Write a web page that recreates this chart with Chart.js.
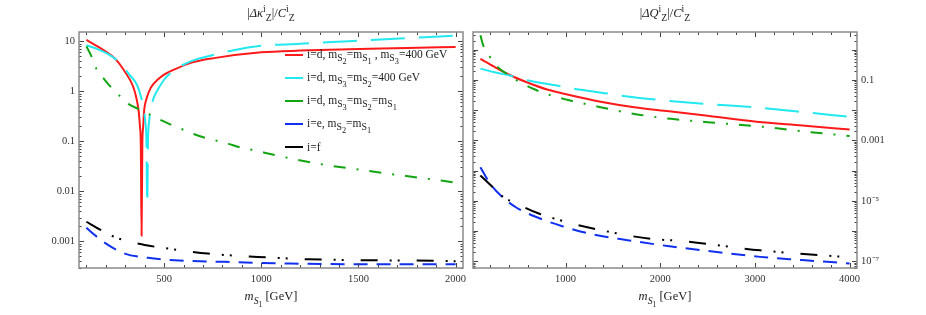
<!DOCTYPE html>
<html lang="en">
<head>
  <meta charset="UTF-8">
  <title>Delta kappa and Delta Q</title>
  <script src="https://cdn.jsdelivr.net/npm/chart.js"></script>
  <style>
    body { margin: 0; background: #fff; }
    #wrap { position: relative; width: 926px; height: 315px; font-family: 'Liberation Serif', serif; color: #222; }
    canvas { position: absolute; top: 0; }
    .lbl { position: absolute; transform: translateX(-50%); white-space: nowrap; font-size: 12.5px; }
    .lbl i { font-style: italic; }
    sub, sup { font-size: 78%; line-height: 0; }
    .legend { position: absolute; left: 285px; font-size: 11.5px; }
    .legend sub { font-size: 85%; }
    .row { position: absolute; left: 0; height: 16px; display: flex; align-items: center; white-space: nowrap; }
    .row span.ln { display: inline-block; width: 18px; height: 2px; margin-right: 4px; }
  </style>
</head>
<body>
  <div id="wrap">
    <canvas id="kappaChart" width="470" height="315" style="left:0"></canvas>
    <canvas id="qChart" width="460" height="315" style="left:466px"></canvas>

    <div class="lbl" style="left:271px; top:6px">|<i>Δκ</i><sup>i</sup><sub>Z</sub>|/<i>C</i><sup>i</sup><sub>Z</sub></div>
    <div class="lbl" style="left:665px; top:6px">|<i>ΔQ</i><sup>i</sup><sub>Z</sub>|/<i>C</i><sup>i</sup><sub>Z</sub></div>
    <div class="lbl" style="left:271px; top:289px"><i>m</i><sub><i>S</i><sub>1</sub></sub> [GeV]</div>
    <div class="lbl" style="left:665px; top:289px"><i>m</i><sub><i>S</i><sub>1</sub></sub> [GeV]</div>

    <!-- legend sits inside the left panel -->
    <div class="legend">
      <div class="row" style="top:47px"><span class="ln" style="background:#ff1a1a"></span><span>i=d, m<sub>S<sub>2</sub></sub>=m<sub>S<sub>1</sub></sub> , m<sub>S<sub>3</sub></sub>=400 GeV</span></div>
      <div class="row" style="top:70px"><span class="ln" style="background:#22e8f0"></span><span>i=d, m<sub>S<sub>3</sub></sub>=m<sub>S<sub>2</sub></sub>=400 GeV</span></div>
      <div class="row" style="top:93px"><span class="ln" style="background:#12a512"></span><span>i=d, m<sub>S<sub>3</sub></sub>=m<sub>S<sub>2</sub></sub>=m<sub>S<sub>1</sub></sub></span></div>
      <div class="row" style="top:116px"><span class="ln" style="background:#1030f0"></span><span>i=e, m<sub>S<sub>2</sub></sub>=m<sub>S<sub>1</sub></sub></span></div>
      <div class="row" style="top:139px"><span class="ln" style="background:#000"></span><span>i=f</span></div>
    </div>
  </div>

  <script>
    // ---- left panel: |Delta kappa| / C ----
    const kappaRedMass = [100, 150, 200, 250, 300, 340, 357, 369, 376, 380, 384, 388, 392, 397, 411, 431, 466, 500, 551, 637, 757, 1000, 1200, 1450, 1750, 2000];
    const kappaRed = [10.6, 8.2, 6.2, 4.4, 2.4, 1.26, 0.74, 0.40, 0.19, 0.09, 0.0013, 0.09, 0.19, 0.40, 0.74, 1.17, 1.7, 2.15, 2.7, 3.7, 4.6, 6.0, 6.5, 6.9, 7.3, 7.7];

    const kappaCyanMass = [100, 160, 210, 263, 321, 360, 385, 395, 403, 409, 413, 417, 423, 437, 450, 467, 500, 550, 640, 760, 960, 1200, 1450, 1750, 2000];
    const kappaCyan = [8.3, 6.9, 5.6, 4.0, 2.15, 1.35, 0.68, 0.45, 0.25, 0.1, 0.0057, 0.1, 0.25, 0.55, 0.8, 1.07, 1.7, 2.6, 4.0, 5.4, 7.8, 8.9, 10.0, 11.5, 13];

    const kappaGreenMass = [100, 126, 151, 189, 230, 273, 316, 371, 434, 480, 540, 600, 652, 712, 771, 831, 891, 950, 1100, 1307, 1581, 1800, 2000];
    const kappaGreen = [7.9, 5.0, 2.84, 1.8, 1.17, 0.8, 0.56, 0.44, 0.33, 0.27, 0.21, 0.17, 0.14, 0.117, 0.103, 0.089, 0.076, 0.068, 0.05, 0.035, 0.0247, 0.019, 0.015];

    const kappaBlueMass = [100, 143, 211, 297, 417, 554, 811, 1153, 1581, 2000];
    const kappaBlue = [0.00188, 0.00134, 0.00085, 0.00057, 0.00047, 0.00042, 0.00039, 0.00036, 0.00035, 0.00035];

    const kappaBlackMass = [100, 168, 263, 400, 554, 725, 982, 1239, 1565, 1890, 2000];
    const kappaBlack = [0.00247, 0.00174, 0.00115, 0.00085, 0.00069, 0.00057, 0.00049, 0.00044, 0.00042, 0.00041, 0.0004];

    const kappaXTicks = [500, 1000, 1500, 2000];
    const kappaYTicks = [0.001, 0.01, 0.1, 1, 10];
    const kappaYLabels = ['0.001', '0.01', '0.1', '1', '10'];

    // ---- right panel: |Delta Q| / C ----
    const qRedMass = [100, 240, 416, 611, 805, 1017, 1370, 1725, 2093, 2500, 3018, 3500, 4000];
    const qRed = [0.5, 0.28, 0.143, 0.079, 0.048, 0.033, 0.019, 0.0125, 0.0092, 0.0065, 0.0041, 0.0031, 0.0023];

    const qCyanMass = [100, 250, 452, 611, 982, 1141, 1512, 1630, 2043, 2500, 3054, 3500, 4000];
    const qCyan = [0.236, 0.18, 0.13, 0.095, 0.059, 0.048, 0.033, 0.029, 0.021, 0.016, 0.012, 0.0087, 0.006];

    const qGreenMass = [100, 134, 204, 293, 381, 487, 664, 841, 1017, 1370, 1725, 2078, 2500, 3088, 3500, 4000];
    const qGreen = [3.0, 1.29, 0.56, 0.25, 0.158, 0.095, 0.05, 0.031, 0.022, 0.0125, 0.0075, 0.0053, 0.004, 0.0028, 0.002, 0.0014];

    const qBlueMass = [100, 187, 310, 487, 717, 964, 1300, 1654, 2078, 2500, 3054, 3500, 4000];
    const qBlue = [1.3e-4, 4.4e-5, 1.55e-5, 5.8e-6, 2.7e-6, 1.45e-6, 7.6e-7, 5e-7, 3.2e-7, 2.2e-7, 1.4e-7, 1.1e-7, 8.5e-8];

    const qBlackMass = [100, 204, 328, 505, 717, 982, 1300, 1901, 2199, 3054, 4000];
    const qBlack = [6.9e-5, 3.4e-5, 1.45e-5, 7.5e-6, 3.8e-6, 2.1e-6, 1.2e-6, 5.5e-7, 4.8e-7, 2.3e-7, 1.35e-7];

    const qXTicks = [1000, 2000, 3000, 4000];
    const qYTicks = [1e-7, 1e-5, 0.001, 0.1];
    const qYLabels = ['10⁻⁷', '10⁻⁵', '0.001', '0.1'];

    const pts = (xs, ys) => xs.map((x, i) => ({ x: x, y: ys[i] }));

    function series(xs, ys, color, dash) {
      return {
        data: pts(xs, ys),
        borderColor: color,
        borderWidth: 2,
        borderDash: dash,
        pointRadius: 0,
        fill: false,
        cubicInterpolationMode: 'monotone'
      };
    }

    // frame plus Mathematica-style inward ticks on all four sides
    const frameTicks = {
      id: 'frameTicks',
      afterDraw(chart, args, opts) {
        const { ctx, chartArea: a, scales: { x, y } } = chart;
        const seg = (x1, y1, x2, y2) => { ctx.beginPath(); ctx.moveTo(x1, y1); ctx.lineTo(x2, y2); ctx.stroke(); };
        ctx.save();
        ctx.strokeStyle = '#444';
        ctx.lineWidth = 1;
        for (let v = opts.xStep; v <= x.max; v += opts.xStep) {
          if (v < x.min) continue;
          const px = Math.round(x.getPixelForValue(v)) + 0.5;
          const len = v % opts.xMajor === 0 ? 5 : 3;
          seg(px, a.bottom, px, a.bottom - len);
          seg(px, a.top, px, a.top + len);
        }
        for (let e = opts.yFrom; e <= opts.yTo; e++) {
          for (let k = 1; k <= 9; k++) {
            const v = k * Math.pow(10, e);
            if (v < y.min || v > y.max) continue;
            const py = Math.round(y.getPixelForValue(v)) + 0.5;
            const len = k === 1 ? 5 : 2.5;
            seg(a.left, py, a.left + len, py);
            seg(a.right, py, a.right - len, py);
          }
        }
        ctx.strokeStyle = '#8a8a8a';
        ctx.lineWidth = 1.5;
        ctx.strokeRect(a.left, a.top, a.right - a.left, a.bottom - a.top);
        ctx.restore();
      }
    };

    Chart.defaults.font.family = "'Liberation Serif', serif";
    Chart.defaults.font.size = 10.5;
    Chart.defaults.color = '#333';

    function panel(id, cfg) {
      return new Chart(document.getElementById(id), {
        type: 'line',
        data: { datasets: cfg.datasets },
        options: {
          responsive: false,
          animation: false,
          devicePixelRatio: 1,
          layout: { padding: cfg.padding },
          plugins: { legend: { display: false }, tooltip: { enabled: false }, frameTicks: cfg.frame },
          scales: {
            x: {
              type: 'linear', min: cfg.xMin, max: cfg.xMax,
              grid: { display: false, drawTicks: false }, border: { display: false },
              afterBuildTicks: s => { s.ticks = cfg.xTicks.map(v => ({ value: v })); },
              afterFit: s => { s.height = 47; s.paddingLeft = 0; s.paddingRight = 0; },
              ticks: { autoSkip: false, maxRotation: 0, padding: 5, callback: v => String(v) }
            },
            y: {
              type: 'logarithmic', position: cfg.yPos, min: cfg.yMin, max: cfg.yMax,
              grid: { display: false, drawTicks: false }, border: { display: false },
              afterBuildTicks: s => { s.ticks = cfg.yTicks.map(v => ({ value: v })); },
              afterFit: s => { s.width = cfg.yWidth; s.paddingTop = 0; s.paddingBottom = 0; },
              ticks: { autoSkip: false, padding: 4, callback: (v, i) => cfg.yLabels[i] }
            }
          }
        },
        plugins: [frameTicks]
      });
    }

    panel('kappaChart', {
      datasets: [
        series(kappaBlackMass, kappaBlack, '#000000', [17, 12, 2, 6, 2, 17]),
        series(kappaBlueMass, kappaBlue, '#1030f0', [14, 9]),
        series(kappaGreenMass, kappaGreen, '#12a512', [12, 11, 2, 11]),
        series(kappaCyanMass, kappaCyan, '#22e8f0', [34, 14]),
        series(kappaRedMass, kappaRed, '#ff1a1a', [])
      ],
      padding: { left: 0, right: 7, top: 32, bottom: 0 },
      xMin: 62, xMax: 2038, xTicks: kappaXTicks,
      yMin: 2.94e-4, yMax: 15.3, yTicks: kappaYTicks, yLabels: kappaYLabels,
      yPos: 'left', yWidth: 79,
      frame: { xStep: 100, xMajor: 500, yFrom: -4, yTo: 1 }
    });

    panel('qChart', {
      datasets: [
        series(qBlackMass, qBlack, '#000000', [17, 12, 2, 6, 2, 17]),
        series(qBlueMass, qBlue, '#1030f0', [14, 9]),
        series(qGreenMass, qGreen, '#12a512', [12, 11, 2, 11]),
        series(qCyanMass, qCyan, '#22e8f0', [34, 14]),
        series(qRedMass, qRed, '#ff1a1a', [])
      ],
      padding: { left: 7, right: 0, top: 32, bottom: 0 },
      xMin: 22, xMax: 4078, xTicks: qXTicks,
      yMin: 6.2e-8, yMax: 3.85, yTicks: qYTicks, yLabels: qYLabels,
      yPos: 'right', yWidth: 69,
      frame: { xStep: 200, xMajor: 1000, yFrom: -8, yTo: 0 }
    });
  </script>
</body>
</html>
